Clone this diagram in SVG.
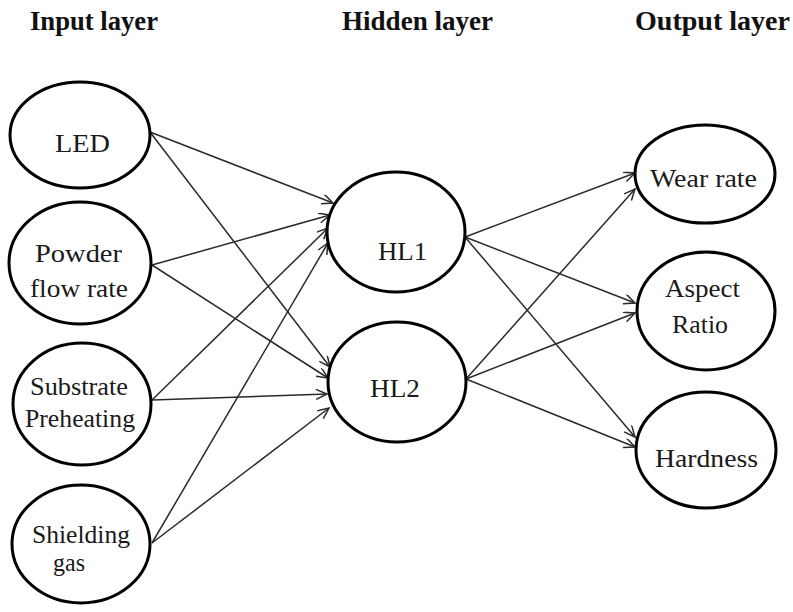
<svg xmlns="http://www.w3.org/2000/svg" width="793" height="612" viewBox="0 0 793 612">
<style>
.node{fill:#fff;stroke:#000;stroke-width:3}
.lbl{font-family:"Liberation Serif","Times New Roman",serif;font-size:25px;fill:#1a1a1a}
.title{font-family:"Liberation Serif","Times New Roman",serif;font-size:27px;font-weight:bold;fill:#111}
.edge{stroke:#2a2a2a;stroke-width:1.5;fill:none;marker-end:url(#arr)}
</style>
<defs>
<marker id="arr" markerUnits="userSpaceOnUse" markerWidth="14" markerHeight="12" refX="12" refY="5" orient="auto">
<path d="M1,0 L12,5 L1,10" fill="none" stroke="#2a2a2a" stroke-width="1.5"/>
</marker>
</defs>
<rect width="793" height="612" fill="#fff"/>
<g id="titles">
<text class="title" x="30" y="30" textLength="128" lengthAdjust="spacingAndGlyphs">Input layer</text>
<text class="title" x="342" y="30" textLength="151" lengthAdjust="spacingAndGlyphs">Hidden layer</text>
<text class="title" x="635" y="30" textLength="155" lengthAdjust="spacingAndGlyphs">Output layer</text>
</g>
<g id="connectors">
<line class="edge" x1="150" y1="132" x2="333" y2="203"/>
<line class="edge" x1="150" y1="132" x2="330" y2="367"/>
<line class="edge" x1="152" y1="265" x2="330" y2="215"/>
<line class="edge" x1="152" y1="265" x2="328" y2="378"/>
<line class="edge" x1="152" y1="400" x2="328" y2="228"/>
<line class="edge" x1="152" y1="400" x2="327" y2="394"/>
<line class="edge" x1="152" y1="543" x2="328" y2="243"/>
<line class="edge" x1="152" y1="543" x2="329" y2="408"/>
<line class="edge" x1="465" y1="237" x2="635" y2="173"/>
<line class="edge" x1="465" y1="237" x2="635" y2="303"/>
<line class="edge" x1="465" y1="237" x2="635" y2="437"/>
<line class="edge" x1="466" y1="379" x2="635" y2="189"/>
<line class="edge" x1="466" y1="379" x2="635" y2="313"/>
<line class="edge" x1="466" y1="379" x2="635" y2="447"/>
</g>
<g id="n-led"><ellipse class="node" cx="80" cy="135" rx="70" ry="53"/><text class="lbl" x="55" y="152" textLength="55" lengthAdjust="spacingAndGlyphs">LED</text></g>
<g id="n-powder"><ellipse class="node" cx="80" cy="263" rx="71" ry="61"/><text class="lbl" x="35" y="262" textLength="87" lengthAdjust="spacingAndGlyphs">Powder</text><text class="lbl" x="30" y="297" textLength="98" lengthAdjust="spacingAndGlyphs">flow rate</text></g>
<g id="n-substrate"><ellipse class="node" cx="82" cy="404" rx="69" ry="61"/><text class="lbl" x="30" y="395" textLength="98" lengthAdjust="spacingAndGlyphs">Substrate</text><text class="lbl" x="25" y="427" textLength="110" lengthAdjust="spacingAndGlyphs">Preheating</text></g>
<g id="n-shielding"><ellipse class="node" cx="81" cy="544" rx="69" ry="59"/><text class="lbl" x="32" y="543" textLength="98" lengthAdjust="spacingAndGlyphs">Shielding</text><text class="lbl" x="53" y="571" textLength="32" lengthAdjust="spacingAndGlyphs">gas</text></g>
<g id="n-hl1"><ellipse class="node" cx="396" cy="232" rx="69" ry="60"/><text class="lbl" x="378" y="260" textLength="49" lengthAdjust="spacingAndGlyphs">HL1</text></g>
<g id="n-hl2"><ellipse class="node" cx="397" cy="382" rx="69" ry="60"/><text class="lbl" x="370" y="397" textLength="50" lengthAdjust="spacingAndGlyphs">HL2</text></g>
<g id="n-wear"><ellipse class="node" cx="705" cy="174" rx="70" ry="49"/><text class="lbl" x="650" y="187" textLength="107" lengthAdjust="spacingAndGlyphs">Wear rate</text></g>
<g id="n-aspect"><ellipse class="node" cx="706" cy="311" rx="69" ry="59"/><text class="lbl" x="665" y="297" textLength="75" lengthAdjust="spacingAndGlyphs">Aspect</text><text class="lbl" x="672" y="333" textLength="56" lengthAdjust="spacingAndGlyphs">Ratio</text></g>
<g id="n-hardness"><ellipse class="node" cx="706" cy="450" rx="70" ry="58"/><text class="lbl" x="655" y="467" textLength="103" lengthAdjust="spacingAndGlyphs">Hardness</text></g>
</svg>
